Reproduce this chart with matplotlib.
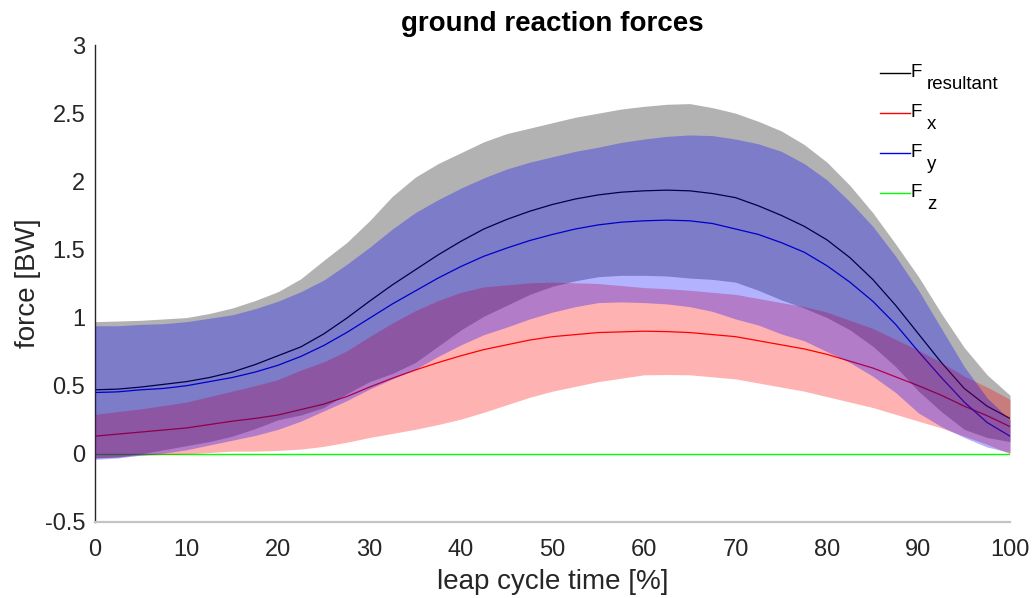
import matplotlib
matplotlib.use("Agg")
import matplotlib.pyplot as plt
import numpy as np

plt.rcParams['font.family'] = ['Liberation Sans', 'DejaVu Sans']

# leap cycle time [%]
cycle = [0, 2.5, 5, 7.5, 10, 12.5, 15, 17.5, 20, 22.5, 25, 27.5, 30, 32.5,
         35, 37.5, 40, 42.5, 45, 47.5, 50, 52.5, 55, 57.5, 60, 62.5, 65,
         67.5, 70, 72.5, 75, 77.5, 80, 82.5, 85, 87.5, 90, 92.5, 95, 97.5, 100]

# resultant force, mean and standard deviation [BW]
res_mean = [0.47, 0.475, 0.49, 0.51, 0.53, 0.56, 0.60, 0.655, 0.72, 0.785,
            0.88, 0.995, 1.12, 1.24, 1.35, 1.46, 1.56, 1.65, 1.72, 1.78,
            1.83, 1.87, 1.90, 1.92, 1.93, 1.935, 1.93, 1.91, 1.88, 1.82,
            1.75, 1.67, 1.57, 1.44, 1.28, 1.09, 0.88, 0.67, 0.48, 0.35, 0.26]
res_sd = [0.50, 0.50, 0.49, 0.48, 0.47, 0.47, 0.47, 0.47, 0.47, 0.50,
          0.54, 0.555, 0.59, 0.65, 0.68, 0.67, 0.65, 0.64, 0.63, 0.61,
          0.60, 0.60, 0.60, 0.61, 0.62, 0.63, 0.64, 0.63, 0.62, 0.62,
          0.62, 0.60, 0.57, 0.53, 0.49, 0.45, 0.42, 0.36, 0.30, 0.23, 0.17]

# x component
fx_mean = [0.13, 0.145, 0.16, 0.175, 0.19, 0.215, 0.24, 0.26, 0.285, 0.325,
           0.365, 0.42, 0.49, 0.555, 0.615, 0.67, 0.72, 0.765, 0.80, 0.835,
           0.86, 0.875, 0.89, 0.895, 0.90, 0.897, 0.89, 0.875, 0.86, 0.83,
           0.80, 0.77, 0.73, 0.68, 0.63, 0.565, 0.50, 0.43, 0.35, 0.28, 0.20]
fx_sd = [0.16, 0.165, 0.17, 0.18, 0.19, 0.205, 0.22, 0.24, 0.26, 0.29,
         0.31, 0.335, 0.37, 0.405, 0.435, 0.455, 0.465, 0.46, 0.44, 0.42,
         0.40, 0.38, 0.36, 0.34, 0.32, 0.315, 0.31, 0.31, 0.31, 0.31,
         0.31, 0.31, 0.31, 0.30, 0.29, 0.275, 0.26, 0.24, 0.22, 0.21, 0.20]

# y component
fy_mean = [0.45, 0.455, 0.47, 0.48, 0.50, 0.53, 0.56, 0.60, 0.65, 0.715,
           0.795, 0.89, 0.995, 1.10, 1.195, 1.29, 1.375, 1.45, 1.51, 1.565,
           1.61, 1.65, 1.68, 1.70, 1.71, 1.715, 1.71, 1.69, 1.65, 1.61,
           1.55, 1.48, 1.38, 1.26, 1.12, 0.95, 0.75, 0.56, 0.38, 0.23, 0.13]
fy_sd = [0.49, 0.485, 0.48, 0.475, 0.47, 0.465, 0.46, 0.465, 0.47, 0.475,
         0.48, 0.50, 0.52, 0.55, 0.575, 0.575, 0.575, 0.575, 0.58, 0.575,
         0.57, 0.57, 0.57, 0.585, 0.60, 0.615, 0.63, 0.645, 0.66, 0.665,
         0.67, 0.65, 0.63, 0.59, 0.55, 0.50, 0.45, 0.36, 0.26, 0.18, 0.12]

# z component
fz_mean = [0.0] * len(cycle)

x_ticks = [0, 10, 20, 30, 40, 50, 60, 70, 80, 90, 100]
y_ticks = [-0.5, 0, 0.5, 1, 1.5, 2, 2.5, 3]

W, H = 1034, 598
fig = plt.figure(figsize=(W / 100, H / 100), dpi=100)
ax = fig.add_axes([95 / W, 1 - 522 / H, 915 / W, 477 / H])

t = np.array(cycle)

# mean curves sit underneath the translucent bands
ax.plot(t, res_mean, color='black', lw=0.9, zorder=1)
ax.plot(t, fx_mean, color='red', lw=0.9, zorder=1)
ax.plot(t, fy_mean, color='blue', lw=0.9, zorder=1)
ax.plot(t, fz_mean, color='#00ff00', lw=1.0, zorder=1)

bands = [(res_mean, res_sd, 'black'),
         (fx_mean, fx_sd, 'red'),
         (fy_mean, fy_sd, 'blue')]
for k, (m, s, c) in enumerate(bands):
    m = np.array(m)
    s = np.array(s)
    ax.fill_between(t, m - s, m + s, color=c, alpha=0.3, linewidth=0,
                    zorder=2 + k)

ax.set_xlim(0, 100)
ax.set_ylim(-0.5, 3)
ax.set_xticks(x_ticks)
ax.set_yticks(y_ticks)
ax.set_xticklabels([f'{v:g}' for v in x_ticks])
ax.set_yticklabels([f'{v:g}' for v in y_ticks])
ax.tick_params(length=0, labelsize=17, colors='#262626')
ax.tick_params(axis='x', pad=12)
ax.tick_params(axis='y', pad=7)

for side in ('top', 'right'):
    ax.spines[side].set_visible(False)
ax.spines['left'].set_color('#262626')
ax.spines['left'].set_linewidth(1.0)
ax.spines['bottom'].set_color('#c4c4c4')
ax.spines['bottom'].set_linewidth(1.6)

ax.set_xlabel('leap cycle time [%]', fontsize=20, color='#262626', labelpad=6)
ax.set_ylabel('force [BW]', fontsize=20, color='#262626', labelpad=3)
ax.set_title('ground reaction forces', fontsize=20, fontweight='bold', pad=10)

# legend: short line, "F" and its subscript
entries = [('black', 'resultant'), ('red', 'x'), ('blue', 'y'), ('#00ff00', 'z')]
for i, (c, sub) in enumerate(entries):
    ly = 73.3 + 40 * i
    fig.add_artist(plt.Line2D([880 / W, 910 / W], [1 - ly / H, 1 - ly / H],
                              color=c, lw=1.0, transform=fig.transFigure))
    fig.text(911 / W, 1 - (ly + 3.5) / H, 'F', fontsize=13.5,
             va='baseline', ha='left', color='black')
    fig.text(927 / W, 1 - (ly + 15.5) / H, sub, fontsize=13.5,
             va='baseline', ha='left', color='black')

fig.savefig('out.png', dpi=100)
